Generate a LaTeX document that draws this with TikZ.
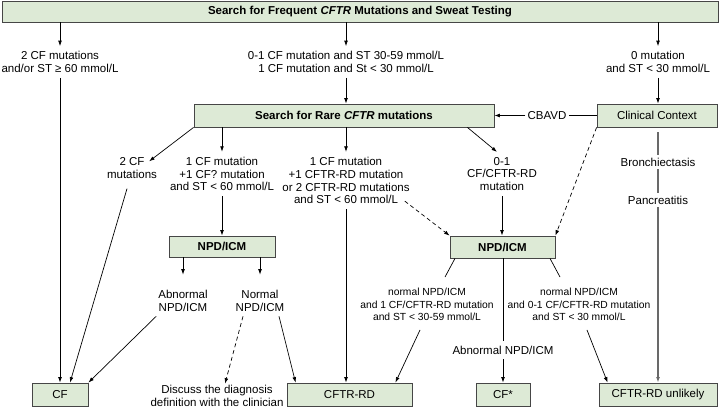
\documentclass[tikz,border=0pt]{standalone}
\usepackage{fontspec}
\setmainfont{Liberation Sans}
\usetikzlibrary{arrows.meta}
\definecolor{boxgreen}{RGB}{221,234,214}
\definecolor{boxline}{RGB}{70,70,70}
\definecolor{grayline}{RGB}{105,105,105}
\tikzset{
  greenbox/.style={draw=boxline,line width=0.8pt,fill=boxgreen,inner sep=0pt,
    font=\fontsize{11.5}{12.8}\selectfont},
  titlebox/.style={greenbox,font=\fontsize{11.5}{13}\selectfont\bfseries},
  lbl/.style={align=center,inner xsep=2pt,inner ysep=5pt,
    font=\fontsize{11.5}{12.8}\selectfont},
  smalllbl/.style={align=center,inner xsep=2pt,inner ysep=5pt,
    font=\fontsize{10.3}{12.5}\selectfont},
  conn/.style={line width=0.7pt,black},
  arr/.style={conn,-{Latex[length=5.5pt,width=3.8pt]}},
  darr/.style={arr,dash pattern=on 4pt off 3pt},
  garr/.style={line width=1.5pt,grayline},
}
\begin{document}
\begin{tikzpicture}[x=1pt,y=-1pt]
\useasboundingbox[fill=white] (0,0) rectangle (720,409);

% boxes
\node[titlebox,minimum width=716pt,minimum height=21pt] (top) at (360,11.5)
  {Search for Frequent \textit{CFTR} Mutations and Sweat Testing};
\node[titlebox,minimum width=300pt,minimum height=23pt] (rare) at (344,115.5)
  {Search for Rare \textit{CFTR} mutations};
\node[greenbox,minimum width=120pt,minimum height=23pt] (clin) at (657,115.5) {Clinical Context};
\node[titlebox,minimum width=106pt,minimum height=21pt] (npdA) at (222,246.5) {NPD/ICM};
\node[titlebox,minimum width=105pt,minimum height=22pt] (npdB) at (502.5,247) {NPD/ICM};
\node[greenbox,minimum width=56pt,minimum height=23pt] (cf) at (60,394.5) {CF};
\node[greenbox,minimum width=125pt,minimum height=23pt] (rd) at (349.5,394.5) {CFTR-RD};
\node[greenbox,minimum width=54pt,minimum height=23pt] (cfs) at (503,394.5) {CF*};
\node[greenbox,minimum width=118pt,minimum height=23pt] (un) at (658,394.5) {CFTR-RD unlikely};

% labels
\node[lbl] (t1) at (60,62) {2 CF mutations\\and/or ST ≥ 60 mmol/L};
\node[lbl] (t2) at (346,62) {0-1 CF mutation and ST 30-59 mmol/L\\1 CF mutation and St < 30 mmol/L};
\node[lbl] (t3r) at (658,62) {0 mutation\\and ST < 30 mmol/L};
\node[lbl,inner ysep=2pt] (cb) at (547,115.5) {CBAVD};
\node[lbl] (t3) at (132,168) {2 CF\\mutations};
\node[lbl] (t4) at (222,174) {1 CF mutation\\+1 CF? mutation\\and ST < 60 mmol/L};
\node[lbl] (t5) at (346,180.5) {1 CF mutation\\+1 CFTR-RD mutation\\or 2 CFTR-RD mutations\\and ST < 60 mmol/L};
\node[lbl] (t6) at (502,174) {0-1\\CF/CFTR-RD\\mutation};
\node[lbl,inner ysep=3pt] (br) at (658,162) {Bronchiectasis};
\node[lbl,inner ysep=3pt] (pa) at (658,200) {Pancreatitis};
\node[lbl] (abn) at (183,300.5) {Abnormal\\NPD/ICM};
\node[lbl] (nor) at (260,300.5) {Normal\\NPD/ICM};
\node[smalllbl] (nl) at (427,304.5) {normal NPD/ICM\\and 1 CF/CFTR-RD mutation\\and ST < 30-59 mmol/L};
\node[smalllbl] (nr) at (579,304.5) {normal NPD/ICM\\and 0-1 CF/CFTR-RD mutation\\and ST < 30 mmol/L};
\node[lbl] (ab2) at (503,350) {Abnormal NPD/ICM};
\node[lbl,inner ysep=1pt] (disc) at (217,395.5) {Discuss the diagnosis\\definition with the clinician};

% connectors
\draw[arr] (top.south -| t1) -- (t1.north);
\draw[arr] (t1.south) -- (cf.north);
\draw[arr] (top.south -| t2) -- (t2.north);
\draw[arr] (t2.south) -- (rare.north -| t2);
\draw[arr] (top.south -| t3r) -- (t3r.north);
\draw[arr] (t3r.south) -- (clin.north -| t3r);
\draw[conn] (clin.west) -- (cb.east);
\draw[arr] (cb.west) -- (rare.east);

\draw[arr] (rare.south west) -- ([xshift=-10pt,yshift=-9pt]t3.north east);
\draw[arr] ([xshift=-5pt,yshift=-5pt]t3.south) -- ([xshift=10pt]cf.north);
\draw[arr] (rare.south -| t4) -- (t4.north);
\draw[arr] (t4.south) -- (npdA.north);
\draw[arr] (rare.south -| t5) -- (t5.north);
\draw[arr] (t5.south) -- (rd.north -| t5);
\draw[arr] ([xshift=-27pt]rare.south east) -- ([xshift=-5pt]t6.north);
\draw[arr] (t6.south) -- (npdB.north -| t6);
\draw[darr] ([xshift=-7pt,yshift=8pt]t5.south east) -- (npdB.north west);
\draw[darr] (clin.south west) -- (npdB.north east);

\draw[garr,shorten <=5pt] (clin.south -| br) -- (br.north);
\draw[garr] (br.south) -- (pa.north);
\draw[garr,-{Latex[length=5.5pt,width=3.8pt]}] (pa.south) -- (un.north -| pa);

\draw[arr] (npdA.south -| abn) -- ([yshift=10pt]abn.north);
\draw[arr] (npdA.south -| nor) -- ([yshift=10pt]nor.north);
\draw[arr] (abn.south west) -- (cf.north east);
\draw[darr] ([xshift=-17pt]nor.south) -- ([xshift=8pt]disc.north);
\draw[arr] ([xshift=19pt]nor.south) -- ([xshift=9pt]rd.north west);

\draw[conn] ([xshift=-47.5pt]npdB.south) -- ([xshift=18pt,yshift=6pt]nl.north);
\draw[arr] ([xshift=-7pt,yshift=-4pt]nl.south) -- ([xshift=-17pt]rd.north east);
\draw[conn] (npdB.south -| ab2) -- (ab2.north);
\draw[arr] (ab2.south) -- (cfs.north -| ab2);
\draw[conn] ([xshift=47.5pt]npdB.south) -- ([xshift=-19pt,yshift=6pt]nr.north);
\draw[arr] ([xshift=8pt,yshift=-4pt]nr.south) -- ([xshift=9pt]un.north west);
\end{tikzpicture}
\end{document}
